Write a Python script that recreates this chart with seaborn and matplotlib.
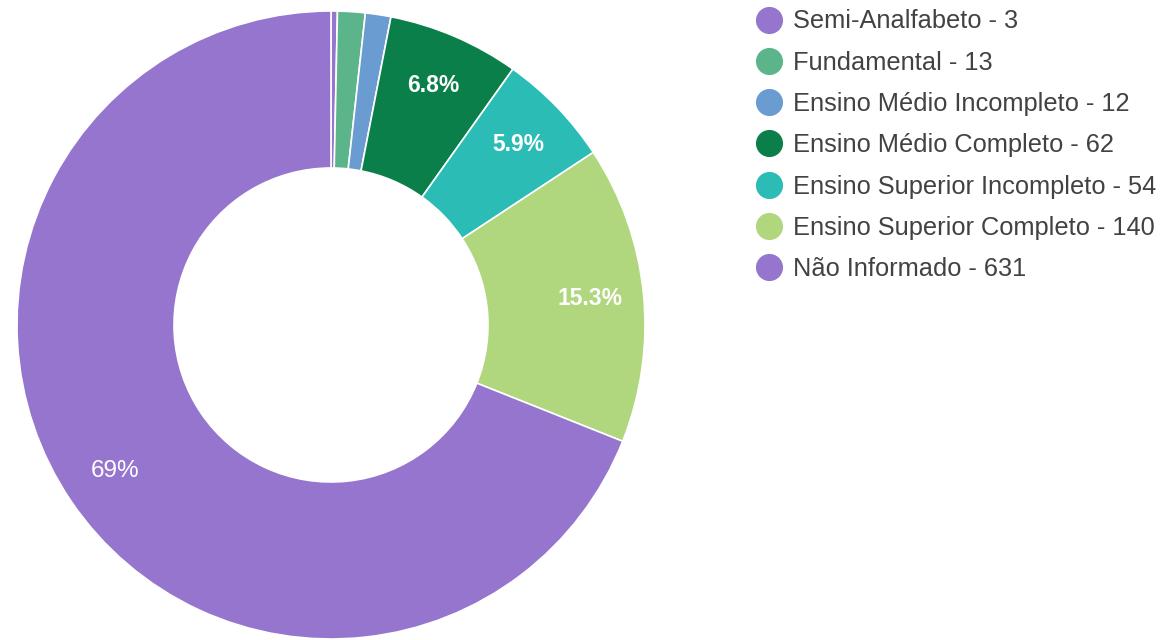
import matplotlib
matplotlib.use("Agg")
import matplotlib.pyplot as plt
from matplotlib.lines import Line2D
import seaborn as sns

# dados
categorias = ["Semi-Analfabeto", "Fundamental", "Ensino Médio Incompleto",
              "Ensino Médio Completo", "Ensino Superior Incompleto",
              "Ensino Superior Completo", "Não Informado"]
valores = [3, 13, 12, 62, 54, 140, 631]
cores = ["#9575cd", "#5cb58a", "#6a9bd1", "#0b7f4a", "#2bbcb6", "#b0d67e", "#9575cd"]

sns.set_theme(style="white")
plt.rcParams["font.family"] = ["Liberation Sans", "DejaVu Sans"]

fig = plt.figure(figsize=(11.62, 6.40), dpi=100)
ax = fig.add_axes([17 / 1162, 1 / 640, 628 / 1162, 628 / 640])


def rotulo(pct):
    # só mostra fatias acima de 5%
    if pct < 5:
        return ""
    if pct > 50:
        return f"{pct:.0f}%"
    return f"{pct:.1f}%"


wedges, textos, autotextos = ax.pie(
    valores,
    colors=cores,
    startangle=90,
    counterclock=False,
    radius=1.0,
    autopct=rotulo,
    pctdistance=0.83,
    wedgeprops={"width": 0.5, "edgecolor": "white", "linewidth": 1.2},
    textprops={"color": "white", "fontsize": 17.5},
)
for t in autotextos:
    if t.get_text() and t.get_text() != "69%":
        t.set_fontweight("bold")
        t.set_fontsize(16.5)

ax.set_xlim(-1, 1)
ax.set_ylim(-1, 1)
ax.set_aspect("equal")
ax.axis("off")

handles = [
    Line2D([], [], marker="o", linestyle="", markersize=18.5,
           markerfacecolor=c, markeredgecolor=c)
    for c in cores
]
labels = [f"{c} - {v}" for c, v in zip(categorias, valores)]
fig.legend(handles, labels, loc="upper left", bbox_to_anchor=(756 / 1162, 1 - 9.5 / 640),
           frameon=False, fontsize=18.3, labelspacing=0.68, handlelength=1.0,
           handletextpad=0.45, borderpad=0, labelcolor="#424242", borderaxespad=0)

fig.savefig("out.png", dpi=100, facecolor="white")
